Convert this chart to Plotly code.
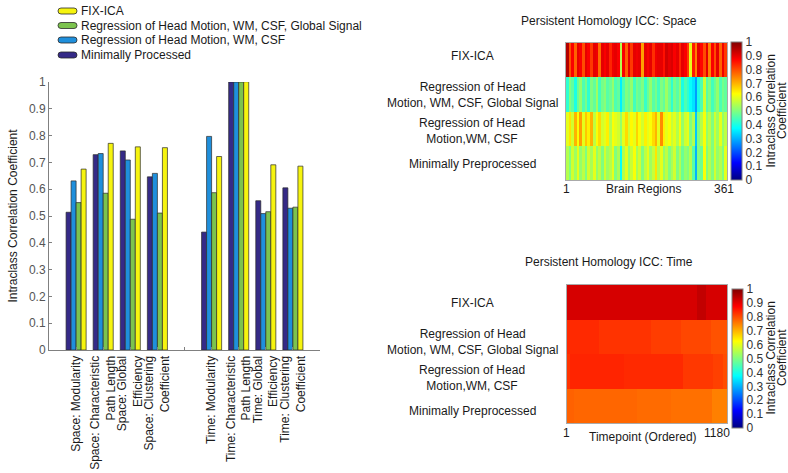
import numpy as np
import plotly.graph_objects as go

W, H = 788, 473

# ---------------- Bar chart data ----------------
categories = ["Space: Modularity", "Space: Characteristic<br>Path Length",
              "Space: Global<br>Efficiency", "Space: Clustering<br>Coefficient",
              "",
              "Time: Modularity", "Time: Characteristic<br>Path Length",
              "Time: Global<br>Efficiency", "Time: Clustering<br>Coefficient"]
bar_positions = [1, 2, 3, 4, 6, 7, 8, 9]
minimal_vals = [0.514, 0.729, 0.743, 0.646, 0.440, 1.000, 0.557, 0.605]
hm_wm_csf_vals = [0.631, 0.733, 0.709, 0.659, 0.797, 1.000, 0.509, 0.529]
hm_wm_csf_gs_vals = [0.550, 0.585, 0.488, 0.511, 0.587, 1.000, 0.516, 0.533]
fix_ica_vals = [0.675, 0.771, 0.758, 0.755, 0.722, 1.001, 0.691, 0.686]

series_names = ["Minimally Processed", "Regression of Head Motion, WM, CSF",
                "Regression of Head Motion, WM, CSF, Global Signal", "FIX-ICA"]
series_colors = ["#352a87", "#1f8fdc", "#7cc34e", "#f6f40f"]

# ---------------- Heatmap (space) data: 60 bins over 361 regions ----------------
n_regions = 361
space_fix = [0.95, 0.80, 0.88, 0.78, 0.90, 0.88, 0.80, 0.90, 0.88, 0.82,
             0.90, 0.89, 0.77, 0.90, 0.88, 0.90, 0.84, 0.89, 0.90, 0.88,
             0.55, 0.88, 0.78, 0.90, 0.82, 0.90, 0.89, 0.90, 0.72, 0.90,
             0.88, 0.90, 0.83, 0.89, 0.90, 0.90, 0.86, 0.92, 0.90, 0.91,
             0.88, 0.90, 0.84, 0.90, 0.88, 0.82, 0.60, 0.85, 0.75, 0.90,
             0.87, 0.80, 0.90, 0.75, 0.88, 0.80, 0.90, 0.78, 0.89, 0.82]
space_gs = [0.42, 0.50, 0.47, 0.40, 0.48, 0.52, 0.45, 0.49, 0.42, 0.50,
            0.47, 0.53, 0.44, 0.49, 0.51, 0.46, 0.48, 0.52, 0.45, 0.47,
            0.36, 0.45, 0.50, 0.48, 0.52, 0.44, 0.49, 0.47, 0.50, 0.43,
            0.48, 0.52, 0.46, 0.49, 0.44, 0.50, 0.47, 0.53, 0.48, 0.42,
            0.49, 0.46, 0.51, 0.40, 0.45, 0.42, 0.38, 0.35, 0.28, 0.40,
            0.45, 0.58, 0.46, 0.50, 0.44, 0.48, 0.52, 0.45, 0.49, 0.47]
space_hm = [0.60, 0.65, 0.58, 0.70, 0.62, 0.72, 0.60, 0.68, 0.64, 0.70,
            0.56, 0.62, 0.66, 0.58, 0.60, 0.64, 0.55, 0.62, 0.60, 0.58,
            0.52, 0.60, 0.66, 0.58, 0.63, 0.60, 0.67, 0.62, 0.58, 0.64,
            0.60, 0.62, 0.66, 0.70, 0.60, 0.74, 0.64, 0.60, 0.62, 0.57,
            0.60, 0.55, 0.62, 0.52, 0.58, 0.60, 0.50, 0.55, 0.32, 0.50,
            0.55, 0.62, 0.52, 0.56, 0.50, 0.58, 0.53, 0.60, 0.52, 0.56]
space_min = [0.55, 0.50, 0.58, 0.53, 0.60, 0.52, 0.56, 0.50, 0.58, 0.54,
             0.60, 0.52, 0.56, 0.50, 0.58, 0.53, 0.55, 0.60, 0.50, 0.54,
             0.38, 0.55, 0.60, 0.52, 0.57, 0.62, 0.54, 0.58, 0.50, 0.56,
             0.60, 0.53, 0.57, 0.65, 0.55, 0.60, 0.52, 0.56, 0.50, 0.54,
             0.58, 0.50, 0.55, 0.48, 0.52, 0.50, 0.55, 0.46, 0.30, 0.50,
             0.48, 0.62, 0.50, 0.55, 0.50, 0.58, 0.52, 0.55, 0.50, 0.60]

# ---------------- Heatmap (time) data: piecewise blocks ----------------
n_time = 1180
time_fix_edges = [1, 958, 1025, 1180]
time_fix_vals = [0.915, 0.935, 0.915]
time_gs_edges = [1, 238, 435, 618, 840, 1062, 1180]
time_gs_vals = [0.835, 0.825, 0.825, 0.815, 0.805, 0.795]
time_hm_edges = [1, 21, 420, 855, 1077, 1151, 1180]
time_hm_vals = [0.825, 0.84, 0.835, 0.82, 0.812, 0.80]
time_min_edges = [1, 50, 514, 766, 1069, 1180]
time_min_vals = [0.78, 0.775, 0.77, 0.765, 0.75]

row_labels = ["FIX-ICA", "Regression of Head<br>Motion, WM, CSF, Global Signal",
              "Regression of Head<br>Motion,WM, CSF", "Minimally Preprocessed"]
cbar_ticks = [0, 0.1, 0.2, 0.3, 0.4, 0.5, 0.6, 0.7, 0.8, 0.9, 1]
cbar_ticktext = ["0", "0.1", "0.2", "0.3", "0.4", "0.5", "0.6", "0.7", "0.8", "0.9", "1"]

jet = [[0.0, "rgb(0,0,128)"], [0.125, "rgb(0,0,255)"], [0.375, "rgb(0,255,255)"],
       [0.625, "rgb(255,255,0)"], [0.875, "rgb(255,0,0)"], [1.0, "rgb(128,0,0)"]]

FONT = "Liberation Sans, Arial, sans-serif"
AX_GRAY = "#808080"
TXT = "#1a1a1a"


def px_x(p):
    return p / W


def px_y(p):
    return 1 - p / H


fig = go.Figure()

# bars
all_vals = [minimal_vals, hm_wm_csf_vals, hm_wm_csf_gs_vals, fix_ica_vals]
for name, col, vals in zip(series_names, series_colors, all_vals):
    fig.add_trace(go.Bar(x=bar_positions, y=vals, name=name, showlegend=False,
                         marker=dict(color=col, line=dict(color="#2a2a2a", width=0.7)),
                         xaxis="x", yaxis="y"))


def cbar(xpx, ypx, lenpx):
    return dict(x=px_x(xpx), xanchor="left", xpad=0, ypad=0,
                thickness=11, lenmode="pixels", len=lenpx,
                y=px_y(ypx), yanchor="middle",
                tickvals=cbar_ticks, ticktext=cbar_ticktext,
                ticks="", outlinewidth=1, outlinecolor=AX_GRAY,
                tickfont=dict(size=12, color="#333", family=FONT))


# space heatmap
space_rows = [space_fix, space_gs, space_hm, space_min]
nb = len(space_fix)
space_edges = np.linspace(0.5, n_regions + 0.5, nb + 1)
fig.add_trace(go.Heatmap(z=space_rows, x=space_edges, y=[0, 1, 2, 3],
                         colorscale=jet, zmin=0, zmax=1, xaxis="x2", yaxis="y2",
                         showscale=True, colorbar=cbar(731, 111, 138)))

# time heatmap: common block table built from the per-row edges
time_rows_edges = [time_fix_edges, time_gs_edges, time_hm_edges, time_min_edges]
time_rows_vals = [time_fix_vals, time_gs_vals, time_hm_vals, time_min_vals]
all_edges = sorted(set(e for es in time_rows_edges for e in es))
z_time = []
for es, vs in zip(time_rows_edges, time_rows_vals):
    row = []
    for a, b in zip(all_edges[:-1], all_edges[1:]):
        mid = (a + b) / 2
        k = max(i for i in range(len(vs)) if es[i] <= mid)
        row.append(vs[k])
    z_time.append(row)
plot_edges = list(all_edges)
plot_edges[0] = 0.5
plot_edges[-1] = n_time + 0.5
fig.add_trace(go.Heatmap(z=z_time, x=plot_edges, y=[0, 1, 2, 3],
                         colorscale=jet, zmin=0, zmax=1, xaxis="x3", yaxis="y3",
                         showscale=True, colorbar=cbar(732, 358.5, 139)))

annotations = []
shapes = []


def add_ann(text, x, y, **kw):
    d = dict(text=text, x=px_x(x), y=px_y(y), xref="paper", yref="paper",
             showarrow=False, font=dict(size=12, color=TXT, family=FONT),
             align="center", xanchor="center", yanchor="middle")
    d.update(kw)
    annotations.append(d)


for lbl, yy in zip(row_labels, [56, 95, 131, 164]):
    add_ann(lbl, 472, yy)
for lbl, yy in zip(row_labels, [303, 342, 378, 411]):
    add_ann(lbl, 472, yy)

add_ann("Persistent Homology ICC: Space", 609, 21)
add_ann("Persistent Homology ICC: Time", 609, 262)
add_ann("1", 566, 189)
add_ann("Brain Regions", 643, 189)
add_ann("361", 724, 189)
add_ann("1", 566, 433)
add_ann("Timepoint (Ordered)", 643, 437)
add_ann("1180", 717, 433)
for cy in (111, 358):
    add_ann("Intraclass Correlation", 770.5, cy, textangle=-90)
    add_ann("Coefficient", 782, cy, textangle=-90)

# legend (drawn manually, FIX-ICA first as in the reference)
legend_y = [11, 25.5, 40, 55]
for i, (name, col) in enumerate(zip(series_names[::-1], series_colors[::-1])):
    yy = legend_y[i]
    x0, x1 = 58, 77
    r = 3
    y0, y1 = yy - 3, yy + 3
    shapes.append(dict(type="path", xref="paper", yref="paper",
                       xsizemode="pixel", ysizemode="pixel",
                       xanchor=px_x(0), yanchor=px_y(0),
                       path=(f"M{x0 + r},{-y0} L{x1 - r},{-y0} Q{x1},{-y0} {x1},{-yy} "
                             f"Q{x1},{-y1} {x1 - r},{-y1} L{x0 + r},{-y1} Q{x0},{-y1} {x0},{-yy} "
                             f"Q{x0},{-y0} {x0 + r},{-y0} Z"),
                       fillcolor=col, line=dict(color="#2a2a2a", width=0.8)))
    add_ann(name, 79, yy, xanchor="left", align="left")

fig.update_layout(
    width=W, height=H, margin=dict(l=0, r=0, t=0, b=0, autoexpand=False),
    paper_bgcolor="white", plot_bgcolor="white",
    font=dict(family=FONT, size=12, color=TXT),
    barmode="group", bargap=0.26, bargroupgap=0.0,
    showlegend=False,
    xaxis=dict(domain=[px_x(49), px_x(320)], range=[0, 10], automargin=False,
               tickvals=list(range(1, 10)), ticktext=categories, tickangle=-90,
               ticks="inside", ticklen=3, tickcolor=AX_GRAY,
               showline=True, linecolor=AX_GRAY, linewidth=1, showgrid=False,
               zeroline=False, tickfont=dict(size=12, color=TXT)),
    yaxis=dict(domain=[px_y(350), px_y(82)], range=[0, 1], automargin=False,
               dtick=0.1, tick0=0, ticks="inside", ticklen=3, tickcolor=AX_GRAY,
               showline=True, linecolor=AX_GRAY, linewidth=1, showgrid=False,
               zeroline=False, tickfont=dict(size=12, color="#555"),
               title=dict(text="Intraclass Correlation Coefficient",
                          font=dict(size=12, color=TXT), standoff=8)),
    xaxis2=dict(domain=[px_x(566), px_x(727)], range=[0.5, n_regions + 0.5],
                showticklabels=False, ticks="", showgrid=False, zeroline=False,
                showline=True, mirror=True, linecolor="#aaaaaa", linewidth=1,
                anchor="y2", automargin=False),
    yaxis2=dict(domain=[px_y(180), px_y(43)], range=[3.5, -0.5],
                showticklabels=False, ticks="", showgrid=False, zeroline=False,
                showline=True, mirror=True, linecolor="#aaaaaa", linewidth=1,
                anchor="x2", automargin=False),
    xaxis3=dict(domain=[px_x(567), px_x(727)], range=[0.5, n_time + 0.5],
                showticklabels=False, ticks="", showgrid=False, zeroline=False,
                showline=True, mirror=True, linecolor="#aaaaaa", linewidth=1,
                anchor="y3", automargin=False),
    yaxis3=dict(domain=[px_y(423), px_y(285)], range=[3.5, -0.5],
                showticklabels=False, ticks="", showgrid=False, zeroline=False,
                showline=True, mirror=True, linecolor="#aaaaaa", linewidth=1,
                anchor="x3", automargin=False),
    annotations=annotations,
    shapes=shapes,
)

fig.write_html("out.html", config={"displayModeBar": False},
               post_script="document.body.style.margin='0';document.body.style.overflow='hidden';")
